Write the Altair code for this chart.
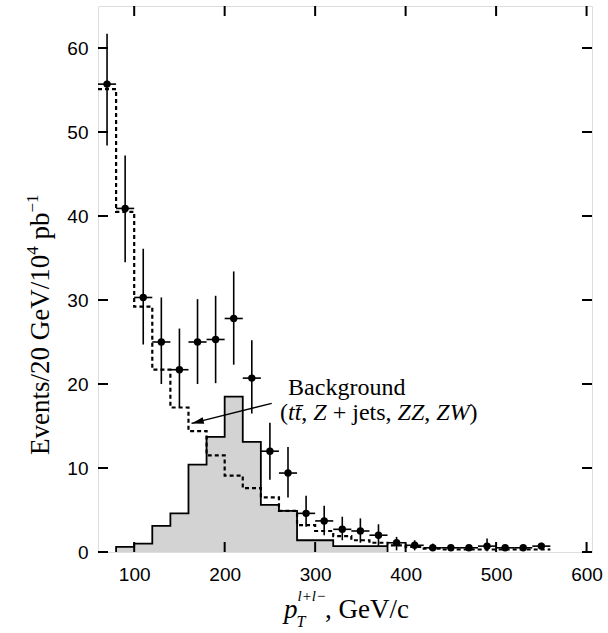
import altair as alt
import pandas as pd

# ---------------- data ----------------
pt_x = [70, 90, 110, 130, 150, 170, 190, 210, 230, 250, 270, 290, 310,
        330, 350, 370, 390, 410, 430, 450, 470, 490, 510, 530, 550]
pt_y = [55.7, 40.9, 30.3, 25.0, 21.7, 25.0, 25.3, 27.8, 20.7, 12.0, 9.4, 4.6, 3.7,
        2.7, 2.5, 2.0, 1.1, 0.8, 0.5, 0.5, 0.5, 0.7, 0.5, 0.5, 0.7]
pt_lo = [48.4, 34.5, 24.7, 20.0, 17.2, 20.0, 20.1, 22.3, 16.5, 8.6, 6.5, 3.0, 2.0,
         1.4, 1.1, 0.6, 0.2, 0.2, 0.2, 0.5, 0.5, 0.1, 0.5, 0.5, 0.3]
pt_hi = [61.7, 47.2, 36.1, 30.3, 26.6, 30.1, 30.5, 33.4, 25.2, 15.4, 12.5, 6.7, 5.5,
         4.2, 4.0, 3.3, 1.8, 1.4, 1.0, 0.5, 0.5, 1.6, 0.5, 0.5, 1.1]
half_bin = 10

bg_edges = [60, 80, 100, 120, 140, 160, 180, 200, 220, 240, 260, 280, 300,
            320, 340, 360, 380, 400, 420, 440, 460, 480, 500, 520, 540, 560]
bg_vals = [55.1, 40.5, 29.2, 21.7, 17.2, 14.4, 11.5, 9.1, 7.6, 6.5, 4.9, 3.2, 2.5,
           1.9, 1.4, 1.1, 0.8, 0.6, 0.4, 0.3, 0.3, 0.3, 0.3, 0.3, 0.3]

sig_edges = [80, 100, 120, 140, 160, 180, 200, 220, 240, 260, 280, 300, 320, 340, 360, 380]
sig_vals = [0.6, 1.0, 3.1, 4.6, 10.4, 13.7, 18.5, 13.1, 5.6, 4.9, 1.4, 1.4, 0.7, 0.7, 0.7]

x_ticks = [100, 200, 300, 400, 500, 600]
y_ticks = [0, 10, 20, 30, 40, 50, 60]

# arrow (data units): tail -> tip
arrow_tail = (252, 17.7)
arrow_tip = (163.4, 15.3)

# ---------------- tables ----------------
pts = pd.DataFrame({"x": pt_x, "y": pt_y, "lo": pt_lo, "hi": pt_hi})
pts["xl"] = pts["x"] - half_bin
pts["xr"] = pts["x"] + half_bin

sig_area = pd.DataFrame({"x": sig_edges, "y": sig_vals + [sig_vals[-1]]})
sig_line = pd.DataFrame({
    "x": [sig_edges[0]] + sig_edges + [sig_edges[-1]],
    "y": [0] + sig_vals + [sig_vals[-1], 0],
})
sig_line["i"] = range(len(sig_line))
bg_line = pd.DataFrame({"x": bg_edges, "y": bg_vals + [bg_vals[-1]]})
bg_line["i"] = range(len(bg_line))

W, H = 494, 546
SERIF = "Liberation Serif"
SANS = "Liberation Sans"

XS = alt.Scale(domain=[60, 606], nice=False, zero=False)
YS = alt.Scale(domain=[0, 65], nice=False, zero=False)
x_axis = alt.Axis(values=x_ticks, labelFont=SANS, labelFontSize=19, labelColor="black",
                  ticks=False, tickSize=0, domain=False, grid=False, labelPadding=13,
                  title=None, labelFlush=False)
y_axis = alt.Axis(values=y_ticks, labelFont=SANS, labelFontSize=19, labelColor="black",
                  ticks=False, tickSize=0, domain=False, grid=False, labelPadding=10,
                  title=None, labelFlush=False)


def X(f="x"):
    return alt.X(f"{f}:Q", scale=XS, axis=x_axis)


def Y(f="y"):
    return alt.Y(f"{f}:Q", scale=YS, axis=y_axis)


area = alt.Chart(sig_area).mark_area(interpolate="step-after", color="#d3d3d3").encode(
    x=X(), y=Y())
outline = alt.Chart(sig_line).mark_line(interpolate="step-after", color="black",
                                        strokeWidth=1.8).encode(
    x=X(), y=Y(), order=alt.Order("i:Q"))
dashed = alt.Chart(bg_line).mark_line(interpolate="step-after", color="black",
                                      strokeWidth=2.2, strokeDash=[4, 3]).encode(
    x=X(), y=Y(), order=alt.Order("i:Q"))

vbars = alt.Chart(pts).mark_rule(color="black", strokeWidth=1.6).encode(
    x=X(), y=Y("lo"), y2="hi:Q")
hbars = alt.Chart(pts).mark_rule(color="black", strokeWidth=1.6).encode(
    x=X("xl"), x2="xr:Q", y=Y())
dots = alt.Chart(pts).mark_circle(color="black", size=55, opacity=1).encode(
    x=X(), y=Y())

xt = pd.DataFrame({"x": x_ticks})
yt = pd.DataFrame({"y": y_ticks})
tick_b = alt.Chart(xt).mark_rule(color="black", strokeWidth=2).encode(
    x=X(), y=alt.value(H), y2=alt.value(H - 10))
tick_t = alt.Chart(xt).mark_rule(color="black", strokeWidth=2).encode(
    x=X(), y=alt.value(0), y2=alt.value(10))
tick_l = alt.Chart(yt).mark_rule(color="black", strokeWidth=2).encode(
    y=Y(), x=alt.value(0), x2=alt.value(10))
tick_r = alt.Chart(yt).mark_rule(color="black", strokeWidth=2).encode(
    y=Y(), x=alt.value(W), x2=alt.value(W - 10))

# arrow
arr = pd.DataFrame({"x": [arrow_tail[0]], "y": [arrow_tail[1]],
                    "x2": [arrow_tip[0]], "y2": [arrow_tip[1]]})
arrow_line = alt.Chart(arr).mark_rule(color="black", strokeWidth=1.3).encode(
    x=X(), y=Y(), x2="x2:Q", y2="y2:Q")
arrow_head = alt.Chart(arr).mark_point(
    shape="M0,0L2,-0.55L2,0.55Z", filled=True, color="black", opacity=1,
    size=150, angle=345.8, strokeWidth=0).encode(x=X("x2"), y=Y("y2"))

# annotation text
ann1 = pd.DataFrame({"x": [270.1], "y": [18.65]})
ann2 = pd.DataFrame({"x": [261.2], "y": [15.7]})
texts = [alt.Chart(ann1).mark_text(text="Background", font=SERIF, fontSize=24,
                                   align="left", baseline="alphabetic", color="black").encode(
    x=X(), y=Y())]
# second line pieces: (text, italic, offset in em)
FS = 24
pieces = [("(", False, 0.0), ("tt\u0304", True, 0.333), (",", False, 0.889),
          ("Z", True, 1.389), ("+ jets,", False, 2.195), ("ZZ", True, 4.898),
          (",", False, 6.010), ("ZW", True, 6.510), (")", False, 7.899)]
for t, ital, off in pieces:
    texts.append(alt.Chart(ann2).mark_text(
        text=t, font=SERIF, fontSize=FS, fontStyle="italic" if ital else "normal",
        align="left", baseline="alphabetic", color="black", dx=off * FS).encode(
        x=X(), y=Y()))

# x-axis title pieces (pixel placement relative to plot area)
xtitle = [
    ("p", 27, "italic", 186, 612),
    ("T", 16, "italic", 198.5, 621),
    ("l+l\u2212", 15, "italic", 199.5, 595),
    (", GeV/c", 27, "normal", 227, 612),
]
for t, fs, st, px, py in xtitle:
    texts.append(alt.Chart(ann1).mark_text(
        text=t, font=SERIF, fontSize=fs, fontStyle=st, align="left",
        baseline="alphabetic", color="black").encode(x=alt.value(px), y=alt.value(py)))

# y-axis title pieces (rotated)
ytitle = [
    ("Events/20 GeV/10", 27, 0.0, 0),
    ("4", 17, 200.2, -11),
    ("pb", 27, 215.5, 0),
    ("\u22121", 17, 242.5, -11),
]
for t, fs, off, shift in ytitle:
    texts.append(alt.Chart(ann1).mark_text(
        text=t, font=SERIF, fontSize=fs, angle=270, align="left",
        baseline="alphabetic", color="black").encode(
        x=alt.value(-49 + shift), y=alt.value(449 - off)))

chart = alt.layer(
    area, outline, dashed, vbars, hbars, dots,
    tick_b, tick_t, tick_l, tick_r, arrow_line, arrow_head, *texts
).properties(
    width=W, height=H,
    padding={"left": 98, "top": 6, "right": 16, "bottom": 81},
    autosize=alt.AutoSizeParams(type="none"),
).configure_view(stroke="black", strokeWidth=2).configure(background="white")

chart.save("out.html", embed_options={"renderer": "svg", "actions": False})
